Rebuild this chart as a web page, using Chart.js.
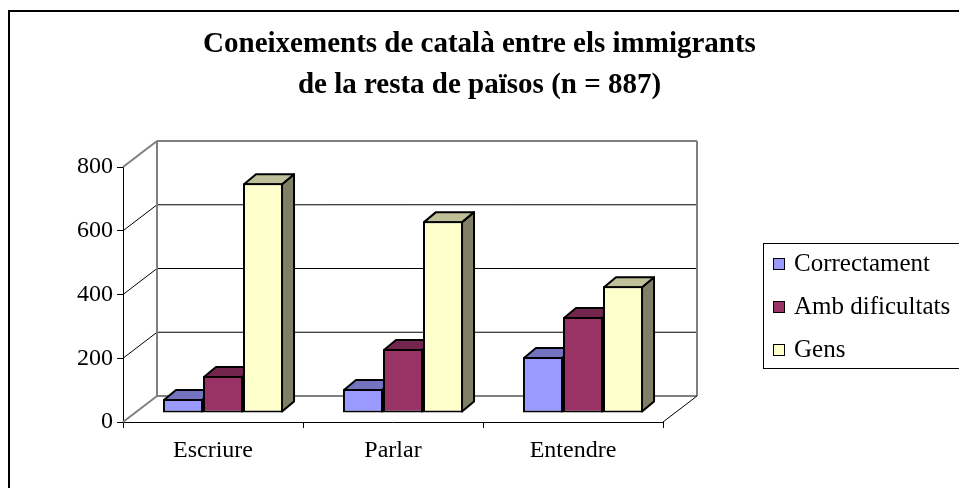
<!DOCTYPE html>
<html>
<head>
<meta charset="utf-8">
<script src="https://cdn.jsdelivr.net/npm/chart.js@4"></script>
<style>
  html, body { margin: 0; padding: 0; background: #fff; }
  #wrap { width: 959px; height: 488px; }
</style>
</head>
<body>
<div id="wrap"><canvas id="chart" width="959" height="488"></canvas></div>
<script>
// data
const categories = ['Escriure', 'Parlar', 'Entendre'];
const seriesNames = ['Correctament', 'Amb dificultats', 'Gens'];
const correctament = [44, 75, 176];
const ambDificultats = [116, 201, 301];
const gens = [721, 602, 398];
const yTicks = [0, 200, 400, 600, 800];
const titleLines = ['Coneixements de català entre els immigrants', 'de la resta de països (n = 887)'];

const seriesColors = ['#9999FF', '#993366', '#FFFFCC'];
const FONT = "'Liberation Serif', 'Times New Roman', serif";

// 3D look: wall depth, bar plane offset, bar depth (px)
const WALL = { dx: 34, dy: -26 };
const PLANE = { dx: 10, dy: -9 };
const DEPTH = { dx: 12, dy: -10 };

function shade(hex, f) {
    const n = parseInt(hex.slice(1), 16);
    const r = Math.round(((n >> 16) & 255) * f);
    const g = Math.round(((n >> 8) & 255) * f);
    const b = Math.round((n & 255) * f);
    return 'rgb(' + r + ',' + g + ',' + b + ')';
}

function line(ctx, x1, y1, x2, y2, color, w) {
    ctx.beginPath();
    ctx.moveTo(x1, y1);
    ctx.lineTo(x2, y2);
    ctx.strokeStyle = color;
    ctx.lineWidth = w;
    ctx.stroke();
}

const chart3d = {
    id: 'chart3d',
    beforeDraw(chart) {
        const ctx = chart.ctx;
        ctx.save();
        ctx.fillStyle = '#fff';
        ctx.fillRect(0, 0, chart.width, chart.height);
        // outer frame of the chart object
        ctx.strokeStyle = '#000';
        ctx.lineWidth = 2;
        ctx.strokeRect(9, 11, 1200, 1000);
        ctx.restore();
    },
    beforeDatasetsDraw(chart) {
        const ctx = chart.ctx;
        const { left, right } = chart.chartArea;
        const y = chart.scales.y;
        const y0 = y.getPixelForValue(yTicks[0]);
        const yMax = y.getPixelForValue(yTicks[yTicks.length - 1]);
        ctx.save();
        // grid on back wall and left wall
        yTicks.forEach((v, i) => {
            const py = y.getPixelForValue(v);
            const edge = i === 0 || i === yTicks.length - 1;
            line(ctx, left + WALL.dx, py + WALL.dy, right + WALL.dx, py + WALL.dy, edge ? '#808080' : '#000', edge ? 2 : 1);
            line(ctx, left, py, left + WALL.dx, py + WALL.dy, edge ? '#808080' : '#000', edge ? 2 : 1);
        });
        // back wall verticals
        line(ctx, left + WALL.dx, yMax + WALL.dy, left + WALL.dx, y0 + WALL.dy, '#808080', 2);
        line(ctx, right + WALL.dx, yMax + WALL.dy, right + WALL.dx, y0 + WALL.dy, '#808080', 2);
        // floor right edge
        line(ctx, right, y0, right + WALL.dx, y0 + WALL.dy, '#000', 1);

        // top and side faces of the columns, drawn before the fronts
        ctx.translate(PLANE.dx, PLANE.dy);
        ctx.lineWidth = 2;
        ctx.lineJoin = 'round';
        ctx.strokeStyle = '#000';
        chart.data.datasets.forEach((ds, di) => {
            const meta = chart.getDatasetMeta(di);
            meta.data.forEach(bar => {
                const L = bar.x - bar.width / 2 + 1, R = bar.x + bar.width / 2 - 1;
                const T = bar.y + 1, B = bar.base - 1;
                // side
                ctx.beginPath();
                ctx.moveTo(R, T);
                ctx.lineTo(R + DEPTH.dx, T + DEPTH.dy);
                ctx.lineTo(R + DEPTH.dx, B + DEPTH.dy);
                ctx.lineTo(R, B);
                ctx.closePath();
                ctx.fillStyle = shade(ds.backgroundColor, 0.5);
                ctx.fill();
                ctx.stroke();
                // top
                ctx.beginPath();
                ctx.moveTo(L, T);
                ctx.lineTo(L + DEPTH.dx, T + DEPTH.dy);
                ctx.lineTo(R + DEPTH.dx, T + DEPTH.dy);
                ctx.lineTo(R, T);
                ctx.closePath();
                ctx.fillStyle = shade(ds.backgroundColor, 0.75);
                ctx.fill();
                ctx.stroke();
            });
        });
        // the fronts are drawn by Chart.js with the same offset
    },
    afterDatasetsDraw(chart) {
        chart.ctx.restore();
    },
    afterDraw(chart) {
        // legend box
        const ctx = chart.ctx;
        ctx.save();
        ctx.strokeStyle = '#000';
        ctx.lineWidth = 1;
        ctx.strokeRect(763.5, 243.5, 300, 125);
        ctx.font = '25px ' + FONT;
        ctx.textBaseline = 'middle';
        ctx.textAlign = 'left';
        chart.data.datasets.forEach((ds, i) => {
            const cy = 264 + i * 43;
            ctx.fillStyle = ds.backgroundColor;
            ctx.fillRect(773, cy - 6, 11, 11);
            ctx.strokeRect(773.5, cy - 5.5, 11, 11);
            ctx.fillStyle = '#000';
            ctx.fillText(ds.label, 794, cy);
        });
        ctx.restore();
    }
};

const seriesData = [correctament, ambDificultats, gens];

new Chart(document.getElementById('chart'), {
    type: 'bar',
    data: {
        labels: categories,
        datasets: seriesNames.map((name, i) => ({
            label: name,
            data: seriesData[i],
            backgroundColor: seriesColors[i],
            borderColor: '#000',
            borderWidth: 2,
            borderSkipped: false,
            categoryPercentage: 0.667,
            barPercentage: 1.0,
            clip: false
        }))
    },
    options: {
        responsive: false,
        animation: false,
        layout: { padding: 0 },
        plugins: {
            legend: { display: false },
            tooltip: { enabled: false },
            title: {
                display: true,
                text: titleLines,
                color: '#000',
                font: { family: FONT, size: 29, weight: 'bold', lineHeight: 1.38 },
                padding: { top: 25, bottom: 62 }
            }
        },
        scales: {
            x: {
                grid: { display: true, drawOnChartArea: false, drawTicks: true, tickLength: 6, color: '#000', offset: true },
                border: { display: true, color: '#000', width: 1 },
                ticks: { font: { family: FONT, size: 24 }, color: '#000', padding: 8 },
                afterFit: s => { s.height = 66; }
            },
            y: {
                min: 0,
                max: 800,
                afterBuildTicks: s => { s.ticks = yTicks.map(v => ({ value: v })); },
                grid: { display: true, drawOnChartArea: false, drawTicks: true, tickLength: 6, color: '#000' },
                border: { display: true, color: '#000', width: 1 },
                ticks: { font: { family: FONT, size: 24 }, color: '#000', padding: 4 },
                afterFit: s => { s.width = 123; }
            },
            // empty right-hand strip that holds the legend, keeps the title centred on the page
            side: {
                type: 'linear',
                position: 'right',
                display: true,
                grid: { display: false },
                border: { display: false },
                ticks: { display: false },
                afterFit: s => { s.width = 296; }
            }
        }
    },
    plugins: [chart3d]
});
</script>
</body>
</html>
